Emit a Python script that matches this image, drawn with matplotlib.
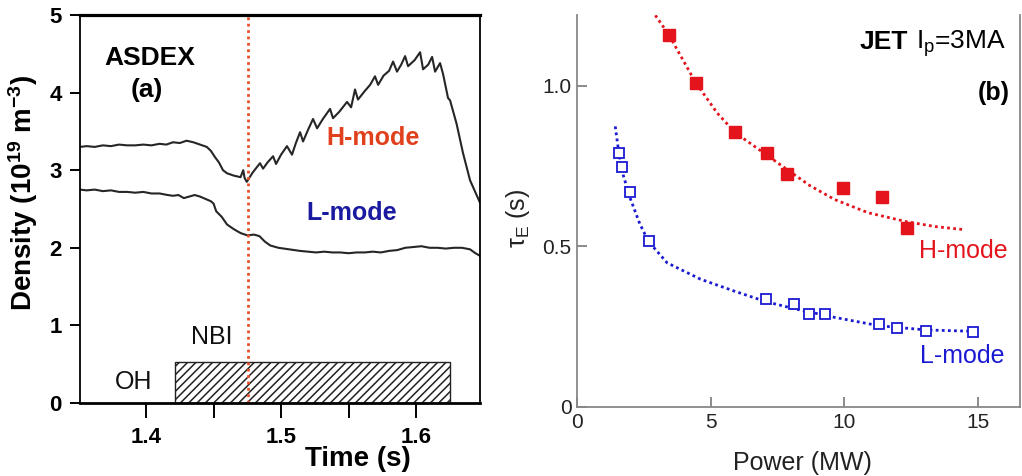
import matplotlib
matplotlib.use("Agg")
import matplotlib.pyplot as plt

plt.rcParams['font.family'] = ['Liberation Sans', 'DejaVu Sans']
plt.rcParams['mathtext.fontset'] = 'custom'
plt.rcParams['mathtext.rm'] = 'Liberation Sans'
plt.rcParams['mathtext.it'] = 'Liberation Sans:italic'
plt.rcParams['mathtext.bf'] = 'Liberation Sans:bold'
plt.rcParams['hatch.linewidth'] = 1.1

# ---- (a) ASDEX line-averaged density traces ----
h_time = [1.351, 1.356, 1.362, 1.368, 1.374, 1.380, 1.386, 1.392, 1.398, 1.404,
          1.410, 1.415, 1.420, 1.425, 1.430, 1.435, 1.440, 1.445, 1.448, 1.451,
          1.454, 1.457, 1.460, 1.465, 1.470, 1.472, 1.473, 1.4746,
          1.4790, 1.4844, 1.4867, 1.4900, 1.4941, 1.4963, 1.5000, 1.5044, 1.5081,
          1.5110, 1.5141, 1.5163, 1.5200, 1.5237, 1.5267, 1.5310, 1.5363, 1.5385,
          1.5430, 1.5489, 1.5519, 1.5548, 1.5570, 1.5620, 1.5660, 1.5696, 1.5719,
          1.5760, 1.5800, 1.5830, 1.5859, 1.5890, 1.5919, 1.5941, 1.5990, 1.6030,
          1.6052, 1.6090, 1.6119, 1.6141, 1.6178, 1.6200, 1.6237, 1.6252, 1.6300,
          1.6348, 1.6400, 1.6474]
h_dens = [3.30, 3.31, 3.30, 3.32, 3.31, 3.33, 3.32, 3.32, 3.33, 3.32,
          3.34, 3.33, 3.36, 3.35, 3.38, 3.36, 3.33, 3.30, 3.25, 3.17,
          3.10, 3.00, 2.96, 2.93, 2.91, 3.00, 2.90, 2.85,
          2.97, 3.09, 3.02, 3.10, 3.18, 3.08, 3.20, 3.31, 3.20,
          3.35, 3.49, 3.37, 3.52, 3.66, 3.54, 3.66, 3.79, 3.67,
          3.75, 3.88, 3.81, 4.04, 3.91, 4.02, 4.10, 4.21, 4.10,
          4.22, 4.28, 4.40, 4.27, 4.36, 4.47, 4.34, 4.42, 4.52,
          4.30, 4.36, 4.46, 4.27, 4.38, 4.24, 3.93, 3.90, 3.60,
          3.22, 2.87, 2.58]

l_time = [1.351, 1.356, 1.362, 1.368, 1.374, 1.380, 1.386, 1.392, 1.398, 1.404,
          1.410, 1.416, 1.420, 1.424, 1.428, 1.432, 1.436, 1.440, 1.444, 1.448,
          1.450, 1.452, 1.456, 1.460, 1.465, 1.470, 1.475, 1.480, 1.484, 1.488,
          1.492, 1.498, 1.506, 1.514, 1.520, 1.526, 1.532, 1.538, 1.544, 1.550,
          1.556, 1.562, 1.568, 1.574, 1.580, 1.586, 1.592, 1.598, 1.604, 1.610,
          1.616, 1.622, 1.628, 1.634, 1.640, 1.644, 1.647]
l_dens = [2.75, 2.74, 2.75, 2.73, 2.74, 2.72, 2.72, 2.71, 2.72, 2.70,
          2.70, 2.68, 2.67, 2.68, 2.64, 2.66, 2.68, 2.66, 2.63, 2.60,
          2.57, 2.47, 2.40, 2.30, 2.24, 2.19, 2.16, 2.17, 2.15, 2.08,
          2.03, 2.00, 1.98, 1.96, 1.95, 1.94, 1.95, 1.94, 1.94, 1.93,
          1.94, 1.94, 1.95, 1.94, 1.96, 1.97, 2.00, 2.01, 2.02, 2.00,
          2.00, 1.99, 2.00, 2.00, 1.98, 1.93, 1.90]

nbi_start, nbi_end, nbi_level = 1.4215, 1.625, 0.53
lh_transition = 1.4755

time_ticks = [1.4, 1.45, 1.5, 1.55, 1.6]
time_labels = ['1.4', '', '1.5', '', '1.6']
density_ticks = [0, 1, 2, 3, 4, 5]

# ---- (b) JET confinement time vs heating power ----
h_power = [3.43, 4.44, 5.91, 7.09, 7.85, 9.95, 11.39, 12.33]
h_tau = [1.158, 1.008, 0.858, 0.791, 0.727, 0.682, 0.653, 0.558]
h_fit_power = [2.93, 3.43, 4.44, 5.25, 5.91, 7.09, 7.85, 8.70, 9.64, 10.89, 12.33, 13.40, 14.40]
h_fit_tau = [1.22, 1.16, 1.01, 0.915, 0.855, 0.785, 0.740, 0.690, 0.646, 0.605, 0.577, 0.562, 0.553]

l_power = [1.58, 1.68, 1.99, 2.68, 7.07, 8.13, 8.66, 9.26, 11.30, 11.98, 13.05, 14.80]
l_tau = [0.791, 0.747, 0.669, 0.517, 0.335, 0.320, 0.289, 0.289, 0.258, 0.245, 0.237, 0.235]
l_fit_power = [1.43, 1.55, 1.70, 1.99, 2.35, 2.68, 3.37, 4.62, 5.88, 7.07, 8.13, 9.64, 11.30, 13.05, 14.70]
l_fit_tau = [0.874, 0.800, 0.730, 0.650, 0.570, 0.515, 0.449, 0.398, 0.361, 0.328, 0.306, 0.279, 0.253, 0.240, 0.236]

power_ticks = [0, 5, 10, 15]
tau_ticks = [0, 0.5, 1.0]
tau_labels = ['0', '0.5', '1.0']

fig = plt.figure(figsize=(10.22, 4.76), dpi=100)

# ---------------- panel (a) ----------------
ax1 = fig.add_axes([0.0783, 0.1534, 0.3914, 0.8151])
ax1.plot(h_time, h_dens, color='#262626', lw=1.5)
ax1.plot(l_time, l_dens, color='#262626', lw=1.5)
ax1.bar([nbi_start], [nbi_level], width=[nbi_end - nbi_start], align='edge',
        fill=False, hatch='////', edgecolor='#222222', lw=1.0)
ax1.axvline(lh_transition, color='#e8502a', lw=2.0, ls=(0, (1, 1.3)))
ax1.set_xlim(1.3511, 1.6474)
ax1.set_ylim(0, 5)
ax1.set_xticks(time_ticks)
ax1.set_xticklabels(time_labels, fontsize=16, fontweight='bold')
ax1.set_yticks(density_ticks)
ax1.set_yticklabels([str(v) for v in density_ticks], fontsize=16, fontweight='bold')
ax1.tick_params(axis='x', direction='out', length=11, width=1.4, pad=6)
ax1.tick_params(axis='y', direction='out', length=7, width=1.4, pad=6)
ax1.spines['top'].set_linewidth(2.3)
ax1.spines['bottom'].set_linewidth(2.0)
ax1.spines['left'].set_linewidth(1.3)
ax1.spines['right'].set_linewidth(1.3)
ax1.set_xlabel('Time (s)', fontsize=20, fontweight='bold')
ax1.xaxis.set_label_coords(0.695, -0.112)
ax1.set_ylabel(r'Density (10$^{\mathbf{19}}$ m$^{\mathbf{-3}}$)', fontsize=20, fontweight='bold')
ax1.yaxis.set_label_coords(-0.099, 0.541)

ax1.text(0.175, 0.889, 'ASDEX', transform=ax1.transAxes, ha='center', va='center',
         fontsize=19, fontweight='bold')
ax1.text(0.167, 0.807, '(a)', transform=ax1.transAxes, ha='center', va='center',
         fontsize=19, fontweight='bold')
ax1.text(0.733, 0.683, 'H-mode', transform=ax1.transAxes, ha='center', va='center',
         fontsize=18, fontweight='bold', color='#e0401c')
ax1.text(0.68, 0.49, 'L-mode', transform=ax1.transAxes, ha='center', va='center',
         fontsize=18, fontweight='bold', color='#1a1aa0')
ax1.text(0.33, 0.17, 'NBI', transform=ax1.transAxes, ha='center', va='center',
         fontsize=18, color='#111111')
ax1.text(0.135, 0.054, 'OH', transform=ax1.transAxes, ha='center', va='center',
         fontsize=18, color='#111111')

# ---------------- panel (b) ----------------
ax2 = fig.add_axes([0.5646, 0.1450, 0.4335, 0.8235])
red = '#e3141c'
blue = '#1a1ad2'
ax2.plot(h_fit_power, h_fit_tau, color=red, lw=2.0, ls=(0, (1, 1.2)))
ax2.plot(l_fit_power, l_fit_tau, color=blue, lw=2.0, ls=(0, (1, 1.2)))
ax2.plot(h_power, h_tau, ls='none', marker='s', ms=8, color=red, mec=red)
ax2.plot(l_power, l_tau, ls='none', marker='s', ms=6.5, mfc='white', mec=blue, mew=1.3)
ax2.set_xlim(0, 16.57)
ax2.set_ylim(0, 1.221)
ax2.set_xticks(power_ticks)
ax2.set_yticks(tau_ticks)
ax2.set_yticklabels(tau_labels)
ax2.tick_params(direction='in', length=7, width=1.2, color='#777777',
                labelsize=15, labelcolor='#222222')
ax2.tick_params(axis='y', pad=4)
ax2.tick_params(axis='x', pad=4)
for side in ['left', 'bottom', 'right']:
    ax2.spines[side].set_color('#888888')
    ax2.spines[side].set_linewidth(1.3)
ax2.spines['top'].set_visible(False)
ax2.set_xlabel('Power (MW)', fontsize=18, color='#222222')
ax2.xaxis.set_label_coords(0.508, -0.112)
ax2.set_ylabel('τ$_\\mathrm{E}$ (s)', fontsize=18, color='#222222')
ax2.yaxis.set_label_coords(-0.102, 0.482)

ax2.text(0.746, 0.914, 'JET', transform=ax2.transAxes, ha='right', va='baseline',
         fontsize=19, fontweight='bold')
ax2.text(0.968, 0.914, 'I$_\\mathrm{p}$=3MA', transform=ax2.transAxes, ha='right',
         va='baseline', fontsize=19)
ax2.text(0.941, 0.80, '(b)', transform=ax2.transAxes, ha='center', va='center',
         fontsize=18, fontweight='bold')
ax2.text(0.871, 0.398, 'H-mode', transform=ax2.transAxes, ha='center', va='center',
         fontsize=18, color=red)
ax2.text(0.869, 0.13, 'L-mode', transform=ax2.transAxes, ha='center', va='center',
         fontsize=18, color=blue)

fig.savefig('out.png', dpi=100)
